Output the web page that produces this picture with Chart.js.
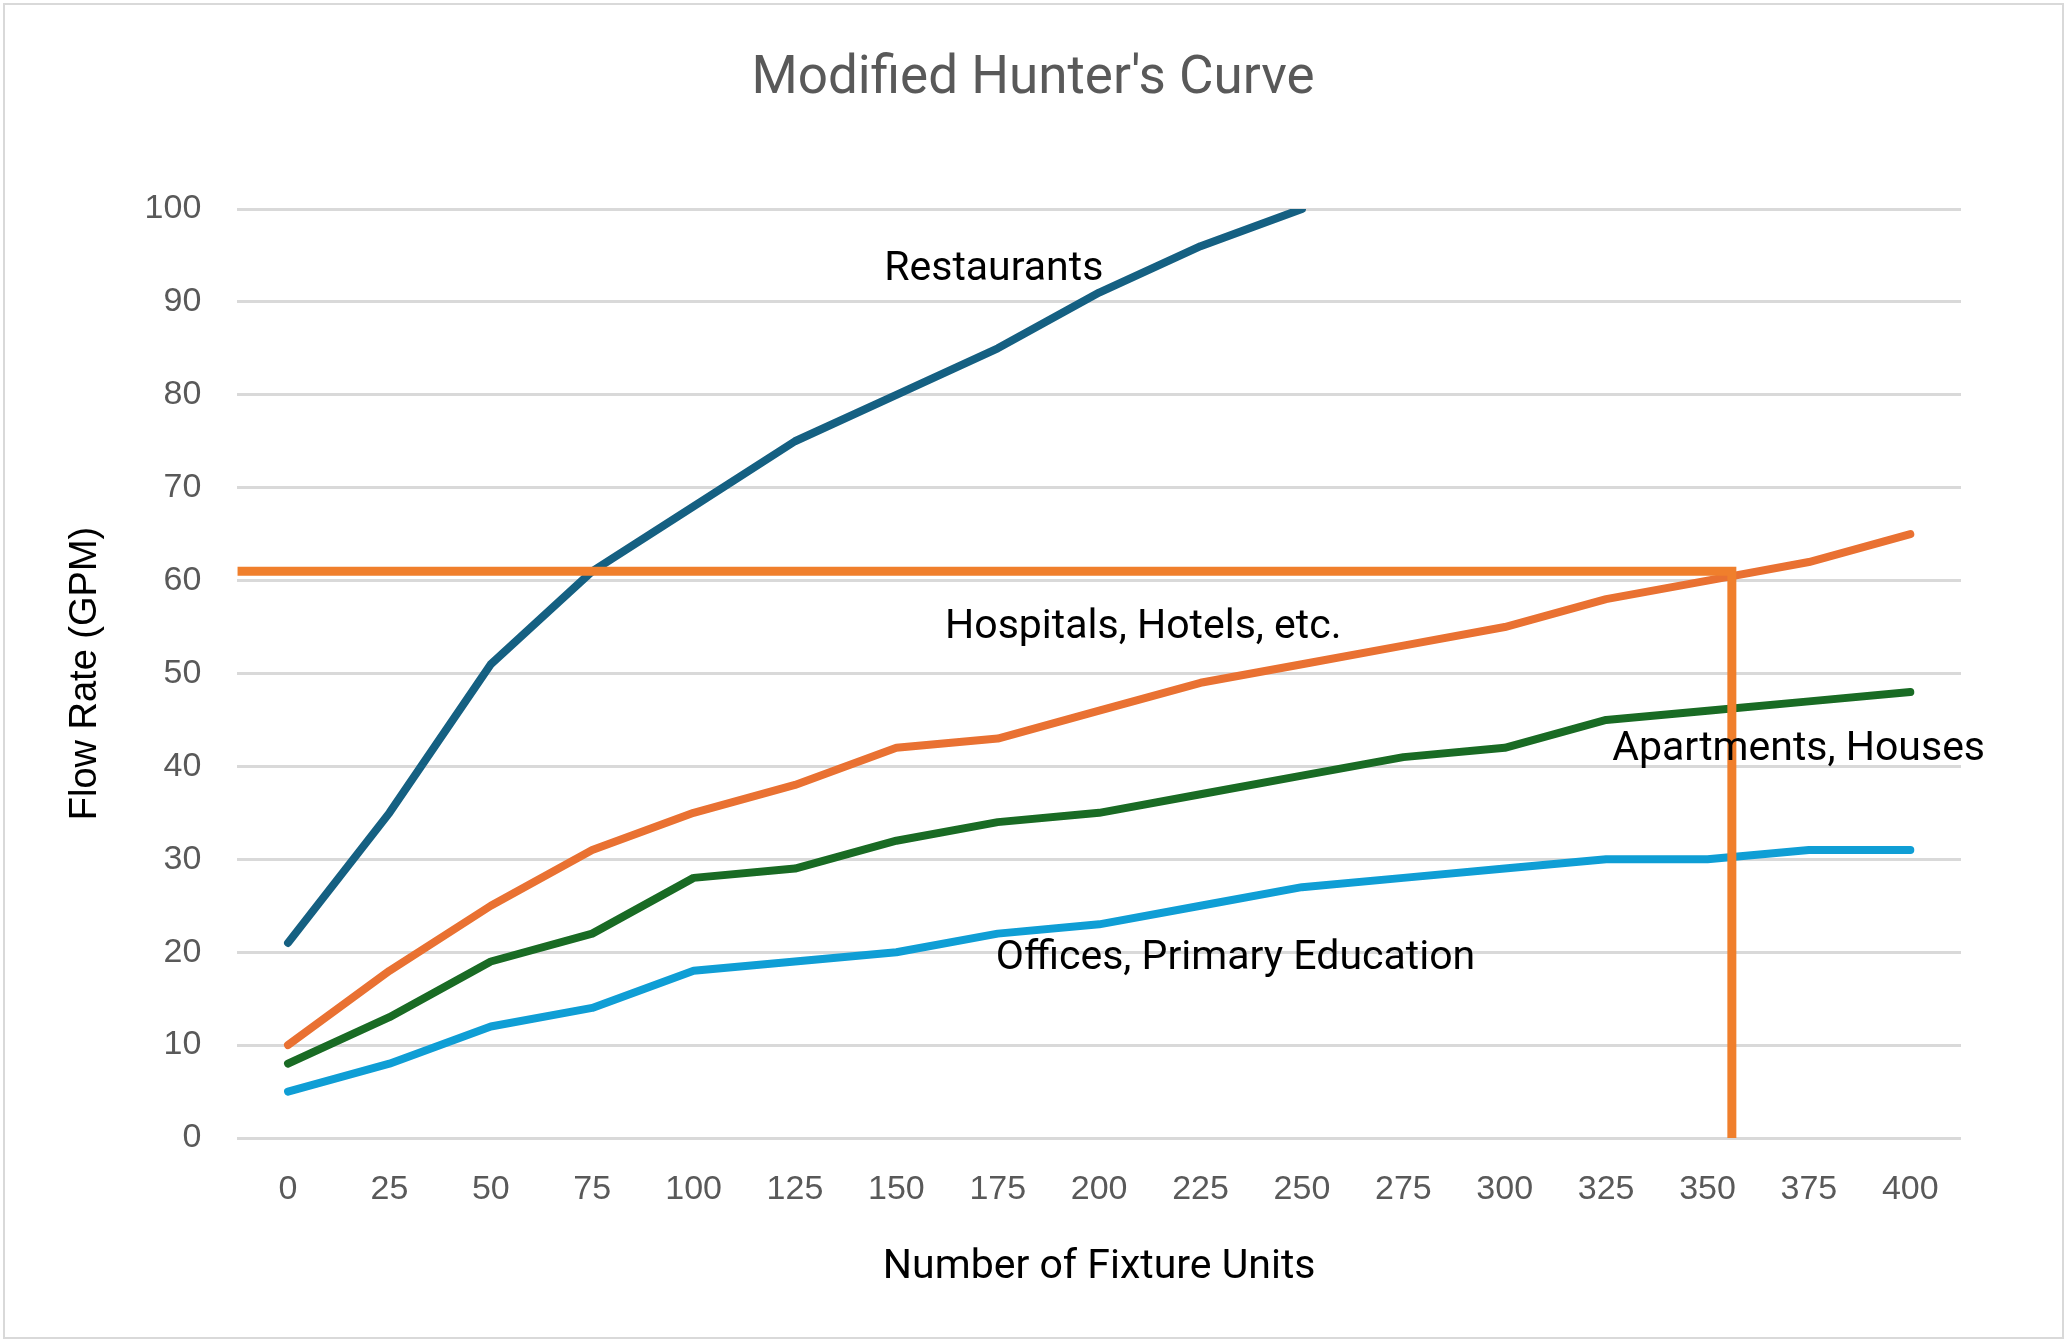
<!DOCTYPE html>
<html>
<head>
<meta charset="utf-8">
<title>Modified Hunter's Curve</title>
<script src="https://cdn.jsdelivr.net/npm/chart.js@4.4.1/dist/chart.umd.min.js"></script>
<style>
    html, body { margin: 0; padding: 0; background: #fff; overflow: hidden; }
    #wrap { position: relative; width: 2066px; height: 1341px; }
    #frame { position: absolute; left: 3px; top: 3px; width: 2057px; height: 1332px; border: 2px solid #d9d9d9; pointer-events: none; }
</style>
</head>
<body>
<div id="wrap">
    <canvas id="chart"></canvas>
    <div id="frame"></div>
</div>
<script>
// fixture units on the x axis
const fixtureUnits = ['0','25','50','75','100','125','150','175','200','225','250','275','300','325','350','375','400']
// flow rate (GPM) per curve
const restaurants = [21,35,51,61,68,75,80,85,91,96,100,null,null,null,null,null,null]
const hospitals = [10,18,25,31,35,38,42,43,46,49,51,53,55,58,60,62,65]
const apartments = [8,13,19,22,28,29,32,34,35,37,39,41,42,45,46,47,48]
const offices = [5,8,12,14,18,19,20,22,23,25,27,28,29,30,30,31,31]
// reading line drawn on the chart (fixture units, GPM)
const readFU = 356
const readGPM = 61
const yTicks = [0,10,20,30,40,50,60,70,80,90,100]

// curve labels, placed in data units
const curveNames = ['Restaurants','Hospitals, Hotels, etc.','Apartments, Houses','Offices, Primary Education']
const curveNameFU = [147,162,326.5,174.5]
const curveNameGPM = [93.5,54.9,41.8,19.3]

const chartTitle = "Modified Hunter's Curve"

// title is drawn centred on the whole picture, curve names in data units
const textPlugin = {
    id: 'textPlugin',
    afterDatasetsDraw(chart) {
        const ctx = chart.ctx
        const xs = chart.scales.x2
        const ys = chart.scales.y
        ctx.save()
        ctx.font = '41px Roboto'
        ctx.fillStyle = '#000000'
        ctx.textAlign = 'left'
        ctx.textBaseline = 'middle'
        for (let i = 0; i < curveNames.length; i++) {
            ctx.fillText(curveNames[i], xs.getPixelForValue(curveNameFU[i]), ys.getPixelForValue(curveNameGPM[i]))
        }
        ctx.font = '53px Roboto'
        ctx.fillStyle = '#595959'
        ctx.textAlign = 'center'
        ctx.fillText(chartTitle, chart.width / 2, 80)
        ctx.restore()
    }
}

const half = 12.5 // half a category step, so the linear axis lines up with the category axis

let lineStyle = {
    borderWidth: 8,
    pointRadius: 0,
    pointHoverRadius: 0,
    tension: 0,
    borderCapStyle: 'round',
    borderJoinStyle: 'round',
    fill: false,
    order: 1
}

const data = {
    labels: fixtureUnits,
    datasets: [
        {
            label: 'Reading',
            data: [{x: -half, y: readGPM}, {x: readFU, y: readGPM}, {x: readFU, y: 0}],
            xAxisID: 'x2',
            borderColor: '#f07f2c',
            borderWidth: 9,
            pointRadius: 0,
            tension: 0,
            borderCapStyle: 'butt',
            borderJoinStyle: 'miter',
            fill: false,
            order: 0
        },
        Object.assign({label: 'Restaurants', data: restaurants, borderColor: '#156082'}, lineStyle),
        Object.assign({label: 'Hospitals, Hotels, etc.', data: hospitals, borderColor: '#e97132'}, lineStyle),
        Object.assign({label: 'Apartments, Houses', data: apartments, borderColor: '#196b24'}, lineStyle),
        Object.assign({label: 'Offices, Primary Education', data: offices, borderColor: '#0f9ed5'}, lineStyle)
    ]
}

const config = {
    type: 'line',
    data: data,
    options: {
        responsive: false,
        devicePixelRatio: 1,
        animation: false,
        layout: { padding: { left: 40, right: 105, top: 209, bottom: 34 } },
        plugins: {
            legend: { display: false },
            tooltip: { enabled: false },
            title: { display: false }
        },
        scales: {
            x: {
                type: 'category',
                offset: true,
                grid: { display: false, drawTicks: false },
                border: { display: false },
                ticks: {
                    color: '#595959',
                    font: { family: 'Liberation Sans', size: 34 },
                    padding: 31,
                    maxRotation: 0,
                    autoSkip: false
                },
                title: {
                    display: true,
                    text: 'Number of Fixture Units',
                    color: '#000000',
                    font: { family: 'Roboto', size: 41 },
                    padding: { top: 2, bottom: 15 }
                }
            },
            x2: {
                type: 'linear',
                display: false,
                min: -half,
                max: 400 + half
            },
            y: {
                min: 0,
                max: 100,
                afterBuildTicks(axis) {
                    axis.ticks = yTicks.map(v => ({value: v}))
                },
                grid: { color: '#d9d9d9', lineWidth: 3, drawTicks: false },
                border: { display: false },
                ticks: {
                    color: '#595959',
                    font: { family: 'Liberation Sans', size: 34 },
                    padding: 36
                },
                title: {
                    display: true,
                    text: 'Flow Rate (GPM)',
                    color: '#000000',
                    font: { family: 'Liberation Sans', size: 38 },
                    padding: { top: 23, bottom: 0 }
                }
            }
        }
    },
    plugins: [textPlugin]
}

const canvas = document.getElementById('chart')
canvas.width = 2066
canvas.height = 1341
canvas.style.width = '2066px'
canvas.style.height = '1341px'
const myChart = new Chart(canvas.getContext('2d'), config)
</script>
</body>
</html>
